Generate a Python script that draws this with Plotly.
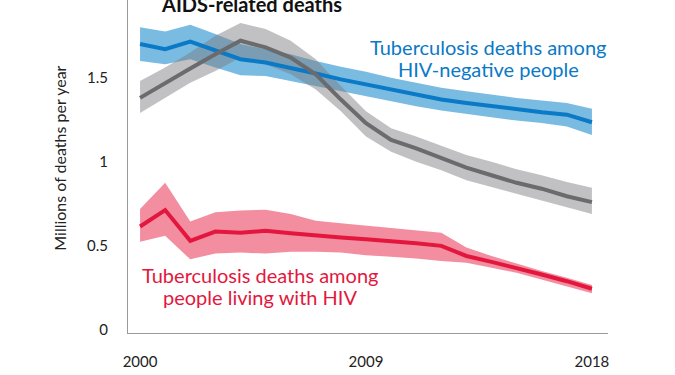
import plotly.graph_objects as go

years = list(range(2000, 2019))

tb_hivneg = [1.70, 1.67, 1.715, 1.66, 1.61, 1.59, 1.56, 1.525, 1.49, 1.46, 1.43, 1.40, 1.37, 1.35, 1.33, 1.31, 1.295, 1.28, 1.235]
tb_hivneg_hi = [1.80, 1.775, 1.815, 1.76, 1.70, 1.67, 1.64, 1.60, 1.565, 1.535, 1.50, 1.47, 1.44, 1.42, 1.40, 1.38, 1.365, 1.35, 1.315]
tb_hivneg_lo = [1.60, 1.58, 1.61, 1.56, 1.515, 1.51, 1.48, 1.45, 1.42, 1.39, 1.36, 1.33, 1.305, 1.285, 1.265, 1.245, 1.23, 1.21, 1.16]

aids = [1.38, 1.47, 1.555, 1.64, 1.72, 1.68, 1.62, 1.52, 1.37, 1.23, 1.13, 1.08, 1.02, 0.965, 0.92, 0.875, 0.84, 0.795, 0.76]
aids_hi = [1.48, 1.56, 1.65, 1.75, 1.825, 1.79, 1.72, 1.61, 1.45, 1.30, 1.20, 1.15, 1.095, 1.04, 1.00, 0.955, 0.92, 0.88, 0.845]
aids_lo = [1.29, 1.38, 1.47, 1.54, 1.62, 1.58, 1.52, 1.43, 1.30, 1.15, 1.06, 1.00, 0.95, 0.89, 0.85, 0.81, 0.77, 0.73, 0.69]

tb_hivpos = [0.615, 0.713, 0.53, 0.585, 0.578, 0.59, 0.575, 0.56, 0.55, 0.54, 0.53, 0.515, 0.50, 0.44, 0.405, 0.37, 0.33, 0.29, 0.245]
tb_hivpos_hi = [0.72, 0.875, 0.645, 0.70, 0.71, 0.715, 0.69, 0.65, 0.635, 0.62, 0.605, 0.59, 0.578, 0.49, 0.44, 0.395, 0.35, 0.31, 0.268]
tb_hivpos_lo = [0.525, 0.56, 0.42, 0.455, 0.46, 0.455, 0.465, 0.465, 0.46, 0.445, 0.435, 0.425, 0.41, 0.40, 0.37, 0.34, 0.30, 0.26, 0.218]

x_ticks = [2000, 2009, 2018]
y_ticks = [0, 0.5, 1, 1.5]
y_tick_labels = ["0", "0.5", "1", "1.5"]

FONT = "Lato"
BLUE = "#0a79c6"
GRAY = "#6b6b6e"
RED = "#e3173e"

fig = go.Figure()

def band(lo, hi, color):
    fig.add_trace(go.Scatter(x=years + years[::-1], y=hi + lo[::-1], fill="toself",
                             fillcolor=color, line=dict(width=0), mode="lines",
                             hoverinfo="skip", showlegend=False))

band(tb_hivneg_lo, tb_hivneg_hi, "rgba(0,125,200,0.52)")
band(aids_lo, aids_hi, "rgba(125,125,130,0.48)")
band(tb_hivpos_lo, tb_hivpos_hi, "rgba(230,30,65,0.5)")

for ys, c in [(tb_hivneg, BLUE), (aids, GRAY), (tb_hivpos, RED)]:
    fig.add_trace(go.Scatter(x=years, y=ys, mode="lines", line=dict(color=c, width=4),
                             showlegend=False))

def label(text, x, y, size, color, bold=False):
    fig.add_annotation(x=x, y=y, xref="paper", yref="paper",
                       text=f"<b>{text}</b>" if bold else text,
                       showarrow=False, xanchor="center", yanchor="middle",
                       font=dict(family=FONT, size=size, color=color))

label("AIDS-related deaths", 0.257, 0.987, 20, "#111", bold=True)
label("Tuberculosis deaths among", 0.75, 0.859, 20, BLUE)
label("HIV-negative people", 0.75, 0.793, 20, BLUE)
label("Tuberculosis deaths among", 0.275, 0.174, 20, RED)
label("people living with HIV", 0.274, 0.108, 20, RED)

fig.add_annotation(x=-0.142, y=0.526, xref="paper", yref="paper",
                   text="Millions of deaths per year", textangle=-90,
                   showarrow=False, xanchor="center", yanchor="middle",
                   font=dict(family=FONT, size=16, color="#222"))

fig.update_layout(
    width=675, height=375,
    margin=dict(l=128, r=67, t=0, b=42),
    paper_bgcolor="white", plot_bgcolor="white",
    font=dict(family=FONT, size=15, color="#222"),
    xaxis=dict(range=[1999.52, 2018.64], tickvals=x_ticks, showgrid=False, zeroline=False,
               showline=True, linecolor="#9a9a9a", linewidth=1, ticks="", automargin=False,
               ticklabelstandoff=15, tickfont=dict(size=15)),
    yaxis=dict(range=[-0.018, 1.962], tickvals=y_ticks, ticktext=y_tick_labels,
               showgrid=False, zeroline=False, showline=True, linecolor="#9a9a9a",
               linewidth=1, ticks="", automargin=False, ticklabelstandoff=16,
               tickfont=dict(size=15)),
)

fig.write_html("out.html", config={"displayModeBar": False},
               post_script="document.body.style.margin='0';")
